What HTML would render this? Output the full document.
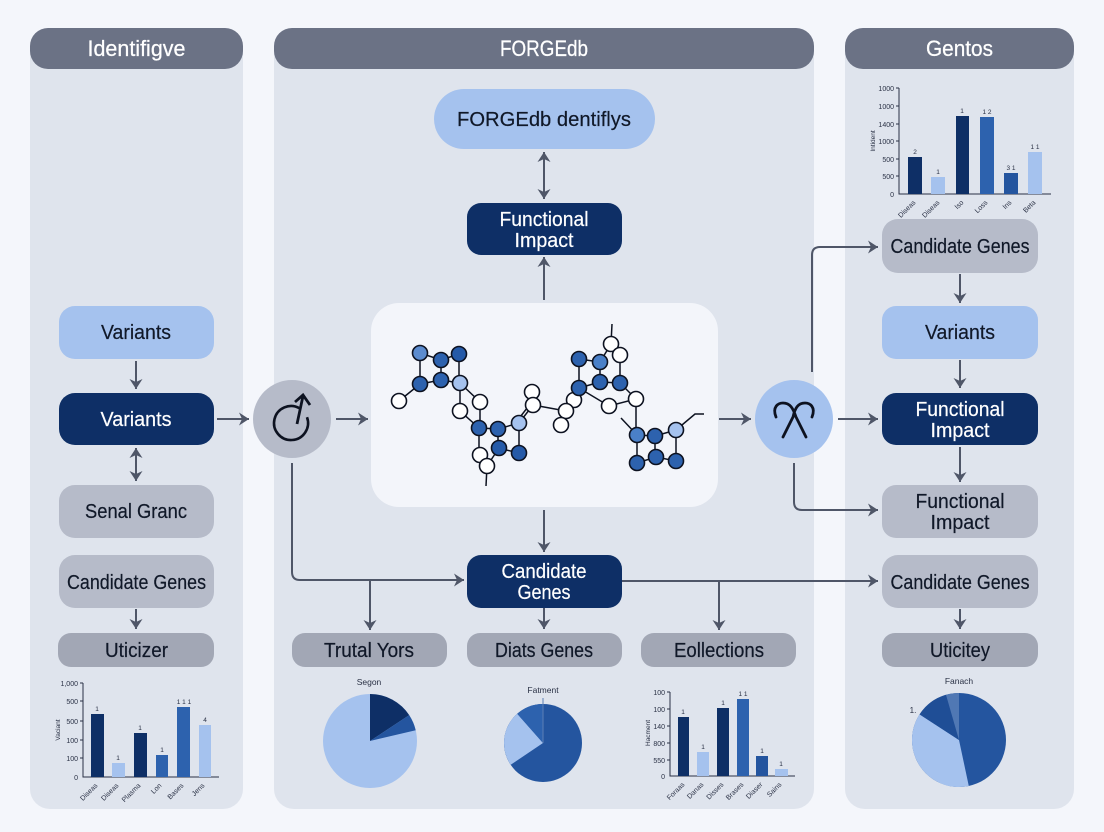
<!DOCTYPE html>
<html><head><meta charset="utf-8"><style>
html,body{margin:0;padding:0;background:#f4f6fb;width:1104px;height:832px;overflow:hidden}
svg{display:block}
text{font-family:"Liberation Sans",sans-serif;text-anchor:middle}
.l{font-size:20.5px;fill:#101828;stroke:#101828;stroke-width:.2}
.w{font-size:20.5px;fill:#fff;stroke:#fff;stroke-width:.2}
.h{font-size:22px;fill:#fff;stroke:#fff;stroke-width:.25}
.t{font-size:7px;fill:#2a3145;text-anchor:end}
.v{font-size:6.5px;fill:#2a3145}
.c{fill:none;stroke:#4f5668;stroke-width:2}
.n{stroke:#0d1220;stroke-width:1.6}
.e{stroke:#0d1220;stroke-width:1.5;fill:none}
.ax{stroke:#2a3145;stroke-width:1;fill:none}
</style></head><body>
<svg width="1104" height="832" viewBox="0 0 1104 832" xmlns="http://www.w3.org/2000/svg">
<defs>
<marker id="a" markerWidth="14" markerHeight="14" refX="11" refY="6.500" orient="auto-start-reverse" markerUnits="userSpaceOnUse"><path d="M1 0L11 6.500L1 13L4 6.500Z" fill="#4f5668"/></marker>
</defs>
<rect width="1104" height="832" fill="#f4f6fb"/>
<!-- panels -->
<rect x="30" y="28" width="213" height="781" rx="20" fill="#dfe4ed"/>
<rect x="274" y="28" width="540" height="781" rx="20" fill="#dfe4ed"/>
<rect x="845" y="28" width="229" height="781" rx="20" fill="#dfe4ed"/>
<rect x="30" y="28" width="213" height="41" rx="18" fill="#6b7285"/>
<rect x="274" y="28" width="540" height="41" rx="18" fill="#6b7285"/>
<rect x="845" y="28" width="229" height="41" rx="18" fill="#6b7285"/>
<text class="h" x="136.500" y="56" textLength="98" lengthAdjust="spacingAndGlyphs">Identifigve</text>
<text class="h" x="544" y="56" textLength="88" lengthAdjust="spacingAndGlyphs">FORGEdb</text>
<text class="h" x="959.500" y="56" textLength="67" lengthAdjust="spacingAndGlyphs">Gentos</text>

<!-- connectors -->
<g class="c">
<path d="M136 361V389" marker-end="url(#a)"/>
<path d="M136 448V481" marker-start="url(#a)" marker-end="url(#a)"/>
<path d="M136 609V629" marker-end="url(#a)"/>
<path d="M217 419H249" marker-end="url(#a)"/>
<path d="M336 419H368" marker-end="url(#a)"/>
<path d="M719 419H751" marker-end="url(#a)"/>
<path d="M838 419H878" marker-end="url(#a)"/>
<path d="M544 152V199" marker-start="url(#a)" marker-end="url(#a)"/>
<path d="M544 300V257" marker-end="url(#a)"/>
<path d="M544 510V552" marker-end="url(#a)"/>
<path d="M544 608V629" marker-end="url(#a)"/>
<path d="M292 463V572Q292 580 300 580H464" marker-end="url(#a)"/>
<path d="M370 581V630" marker-end="url(#a)"/>
<path d="M719 581V630" marker-end="url(#a)"/>
<path d="M622 581H878" marker-end="url(#a)"/>
<path d="M812 372V255Q812 247 820 247H878" marker-end="url(#a)"/>
<path d="M794 463V502Q794 510 802 510H878" marker-end="url(#a)"/>
<path d="M960 274V303" marker-end="url(#a)"/>
<path d="M960 360V388" marker-end="url(#a)"/>
<path d="M960 447V482" marker-end="url(#a)"/>
<path d="M960 609V629" marker-end="url(#a)"/>
</g>

<!-- left nodes -->
<rect x="59" y="306" width="155" height="53" rx="16" fill="#a5c2ee"/>
<text class="l" x="136" y="339" textLength="70" lengthAdjust="spacingAndGlyphs">Variants</text>
<rect x="59" y="393" width="155" height="52" rx="16" fill="#0e2f66"/>
<text class="w" x="136" y="426" textLength="71" lengthAdjust="spacingAndGlyphs">Variants</text>
<rect x="59" y="485" width="155" height="53" rx="16" fill="#b6bbc9"/>
<text class="l" x="136" y="518" textLength="102" lengthAdjust="spacingAndGlyphs">Senal Granc</text>
<rect x="59" y="555" width="155" height="53" rx="16" fill="#b6bbc9"/>
<text class="l" x="136.500" y="589" textLength="139" lengthAdjust="spacingAndGlyphs">Candidate Genes</text>
<rect x="58" y="633" width="156" height="34" rx="13" fill="#a2a7b5"/>
<text class="l" x="136.500" y="657" textLength="63" lengthAdjust="spacingAndGlyphs">Uticizer</text>

<!-- center nodes -->
<rect x="434" y="89" width="221" height="60" rx="30" fill="#a5c2ee"/>
<text class="l" x="544" y="126" textLength="174" lengthAdjust="spacingAndGlyphs">FORGEdb dentiflys</text>
<rect x="467" y="203" width="155" height="52" rx="14" fill="#0e2f66"/>
<text class="w" x="544" y="226" textLength="89" lengthAdjust="spacingAndGlyphs">Functional</text>
<text class="w" x="544" y="247" textLength="59" lengthAdjust="spacingAndGlyphs">Impact</text>
<rect x="467" y="555" width="155" height="53" rx="14" fill="#0e2f66"/>
<text class="w" x="544" y="578" textLength="85" lengthAdjust="spacingAndGlyphs">Candidate</text>
<text class="w" x="544" y="599" textLength="53" lengthAdjust="spacingAndGlyphs">Genes</text>
<rect x="292" y="633" width="155" height="34" rx="13" fill="#a2a7b5"/>
<text class="l" x="369" y="657" textLength="90" lengthAdjust="spacingAndGlyphs">Trutal Yors</text>
<rect x="467" y="633" width="155" height="34" rx="13" fill="#a2a7b5"/>
<text class="l" x="544" y="657" textLength="98" lengthAdjust="spacingAndGlyphs">Diats Genes</text>
<rect x="641" y="633" width="155" height="34" rx="13" fill="#a2a7b5"/>
<text class="l" x="719" y="657" textLength="90" lengthAdjust="spacingAndGlyphs">Eollections</text>

<!-- right nodes -->
<rect x="882" y="219" width="156" height="54" rx="16" fill="#b6bbc9"/>
<text class="l" x="960" y="253" textLength="139" lengthAdjust="spacingAndGlyphs">Candidate Genes</text>
<rect x="882" y="306" width="156" height="53" rx="14" fill="#a5c2ee"/>
<text class="l" x="960" y="339" textLength="70" lengthAdjust="spacingAndGlyphs">Variants</text>
<rect x="882" y="393" width="156" height="52" rx="14" fill="#0e2f66"/>
<text class="w" x="960" y="416" textLength="89" lengthAdjust="spacingAndGlyphs">Functional</text>
<text class="w" x="960" y="437" textLength="59" lengthAdjust="spacingAndGlyphs">Impact</text>
<rect x="882" y="485" width="156" height="53" rx="14" fill="#b6bbc9"/>
<text class="l" x="960" y="508" textLength="89" lengthAdjust="spacingAndGlyphs">Functional</text>
<text class="l" x="960" y="529" textLength="59" lengthAdjust="spacingAndGlyphs">Impact</text>
<rect x="882" y="555" width="156" height="53" rx="16" fill="#b6bbc9"/>
<text class="l" x="960" y="589" textLength="139" lengthAdjust="spacingAndGlyphs">Candidate Genes</text>
<rect x="882" y="633" width="156" height="34" rx="13" fill="#a2a7b5"/>
<text class="l" x="960" y="657" textLength="60" lengthAdjust="spacingAndGlyphs">Uticitey</text>

<!-- circles -->
<circle cx="292" cy="419" r="39" fill="#b6bbc9"/>
<path d="M299.500 408.300A17 17 0 1 0 307 417.200" fill="none" stroke="#0d1220" stroke-width="2.600"/>
<path d="M297 424L303 396M295 402L303 395L310 405" fill="none" stroke="#0d1220" stroke-width="2.800"/>
<circle cx="794" cy="419" r="39" fill="#a5c2ee"/>
<path d="M776 417C772 407 778 403 783 403C790 403 793 408 796 417L806 437M812 417C816 407 810 403 805 403C798 403 795 408 793 417L783 437" fill="none" stroke="#0d1220" stroke-width="2.800" stroke-linecap="round"/>

<!-- molecule panel -->
<rect x="371" y="303" width="347" height="204" rx="28" fill="#f3f5fa"/>
<g class="e">
<path d="M420 353V384L399 401M420 353L441 360L459 354V383M441 360V380M420 384L441 380L460 383"/>
<path d="M460 383V411L479 428M460 383L480 402V428L498 429L519 423V453M498 429V448L519 453M479 428V455L487 466L499 448M487 466L486 486"/>
<path d="M519 423L533 405M517 421L531 403M533 392V405L566 411M566 411L561 425M566 411L579 388M570 413L583 390M574 400L579 388"/>
<path d="M579 359V388L600 382V362L579 359M600 382L620 383V355M600 362L611 344L612 324M579 388L609 406L636 399L620 383M636 399V435"/>
<path d="M637 435L655 436L676 430V461L656 457L637 463V435M655 436V457M621 418L637 435M676 430L695 414H704"/>
</g>
<g class="n">
<circle cx="420" cy="353" r="7.500" fill="#5c8ccf"/><circle cx="441" cy="360" r="7.500" fill="#2d62ae"/><circle cx="459" cy="354" r="7.500" fill="#255aa8"/>
<circle cx="420" cy="384" r="7.500" fill="#2d62ae"/><circle cx="441" cy="380" r="7.500" fill="#2d62ae"/><circle cx="460" cy="383" r="7.500" fill="#a5c2ee"/>
<circle cx="399" cy="401" r="7.500" fill="#fff"/><circle cx="480" cy="402" r="7.500" fill="#fff"/><circle cx="460" cy="411" r="7.500" fill="#fff"/>
<circle cx="479" cy="428" r="7.500" fill="#2d62ae"/><circle cx="498" cy="429" r="7.500" fill="#2d62ae"/><circle cx="519" cy="423" r="7.500" fill="#a5c2ee"/>
<circle cx="499" cy="448" r="7.500" fill="#255aa8"/><circle cx="519" cy="453" r="7.500" fill="#255aa8"/><circle cx="480" cy="455" r="7.500" fill="#fff"/><circle cx="487" cy="466" r="7.500" fill="#fff"/>
<circle cx="532" cy="392" r="7.500" fill="#fff"/><circle cx="533" cy="405" r="7.500" fill="#fff"/><circle cx="574" cy="400" r="7.500" fill="#fff"/><circle cx="566" cy="411" r="7.500" fill="#fff"/><circle cx="561" cy="425" r="7.500" fill="#fff"/>
<circle cx="579" cy="359" r="7.500" fill="#2d62ae"/><circle cx="600" cy="362" r="7.500" fill="#4a80c8"/><circle cx="600" cy="382" r="7.500" fill="#2d62ae"/><circle cx="579" cy="388" r="7.500" fill="#2d62ae"/><circle cx="620" cy="383" r="7.500" fill="#2d62ae"/>
<circle cx="611" cy="344" r="7.500" fill="#fff"/><circle cx="620" cy="355" r="7.500" fill="#fff"/><circle cx="636" cy="399" r="7.500" fill="#fff"/><circle cx="609" cy="406" r="7.500" fill="#fff"/>
<circle cx="637" cy="435" r="7.500" fill="#4a80c8"/><circle cx="655" cy="436" r="7.500" fill="#2d62ae"/><circle cx="676" cy="430" r="7.500" fill="#a5c2ee"/>
<circle cx="637" cy="463" r="7.500" fill="#2d62ae"/><circle cx="656" cy="457" r="7.500" fill="#2d62ae"/><circle cx="676" cy="461" r="7.500" fill="#2d62ae"/>
</g>

<!-- chart top right -->
<path class="ax" d="M899 88V194H1051M896 88H899M896 106H899M896 124H899M896 141H899M896 159H899M896 176H899"/>
<rect x="908" y="157" width="14" height="37" fill="#0e2f66"/><rect x="931" y="177" width="14" height="17" fill="#a5c2ee"/><rect x="956" y="116" width="13" height="78" fill="#0e2f66"/><rect x="980" y="117" width="14" height="77" fill="#2d62ae"/><rect x="1004" y="173" width="14" height="21" fill="#24559f"/><rect x="1028" y="152" width="14" height="42" fill="#a5c2ee"/>
<text class="t" x="894" y="91">1000</text><text class="t" x="894" y="109">1000</text><text class="t" x="894" y="127">1400</text><text class="t" x="894" y="144">1000</text><text class="t" x="894" y="162">500</text><text class="t" x="894" y="179">500</text><text class="t" x="894" y="197">0</text>
<text class="v" transform="translate(875 141) rotate(-90)">Intident</text>
<text class="v" x="915" y="154">2</text><text class="v" x="938" y="174">1</text><text class="v" x="962" y="113">1</text><text class="v" x="987" y="114">1 2</text><text class="v" x="1011" y="170">3 1</text><text class="v" x="1035" y="149">1 1</text>
<text class="t" transform="translate(916 203) rotate(-45)">Diseas</text><text class="t" transform="translate(940 203) rotate(-45)">Diseas</text><text class="t" transform="translate(964 203) rotate(-45)">Iso</text><text class="t" transform="translate(988 203) rotate(-45)">Loss</text><text class="t" transform="translate(1012 203) rotate(-45)">Ins</text><text class="t" transform="translate(1036 203) rotate(-45)">Beta</text>

<!-- chart left -->
<path class="ax" d="M83 683V777H219M80 683H83M80 701H83M80 721H83M80 740H83M80 758H83"/>
<rect x="91" y="714" width="13" height="63" fill="#0e2f66"/><rect x="112" y="763" width="13" height="14" fill="#a5c2ee"/><rect x="134" y="733" width="13" height="44" fill="#0e2f66"/><rect x="156" y="755" width="12" height="22" fill="#2d62ae"/><rect x="177" y="707" width="13" height="70" fill="#2d62ae"/><rect x="199" y="725" width="12" height="52" fill="#a5c2ee"/>
<text class="t" x="78" y="686">1,000</text><text class="t" x="78" y="704">500</text><text class="t" x="78" y="724">500</text><text class="t" x="78" y="743">100</text><text class="t" x="78" y="761">100</text><text class="t" x="78" y="780">0</text>
<text class="v" transform="translate(60 730) rotate(-90)">Vaciant</text>
<text class="v" x="97" y="711">1</text><text class="v" x="118" y="760">1</text><text class="v" x="140" y="730">1</text><text class="v" x="162" y="752">1</text><text class="v" x="184" y="704">1 1 1</text><text class="v" x="205" y="722">4</text>
<text class="t" transform="translate(98 786) rotate(-45)">Diseas</text><text class="t" transform="translate(119 786) rotate(-45)">Diseas</text><text class="t" transform="translate(141 786) rotate(-45)">Plasma</text><text class="t" transform="translate(162 786) rotate(-45)">Lon</text><text class="t" transform="translate(184 786) rotate(-45)">Bases</text><text class="t" transform="translate(205 786) rotate(-45)">Jens</text>

<!-- chart center -->
<path class="ax" d="M670 692V776H795M667 692H670M667 709H670M667 726H670M667 743H670M667 760H670"/>
<rect x="678" y="717" width="11" height="59" fill="#0e2f66"/><rect x="697" y="752" width="12" height="24" fill="#a5c2ee"/><rect x="717" y="708" width="12" height="68" fill="#0e2f66"/><rect x="737" y="699" width="12" height="77" fill="#2d62ae"/><rect x="756" y="756" width="12" height="20" fill="#24559f"/><rect x="775" y="769" width="13" height="7" fill="#a5c2ee"/>
<text class="t" x="665" y="695">100</text><text class="t" x="665" y="712">100</text><text class="t" x="665" y="729">140</text><text class="t" x="665" y="746">800</text><text class="t" x="665" y="763">550</text><text class="t" x="665" y="779">0</text>
<text class="v" transform="translate(650 733) rotate(-90)">Hacment</text>
<text class="v" x="683" y="714">1</text><text class="v" x="703" y="749">1</text><text class="v" x="723" y="705">1</text><text class="v" x="743" y="696">1 1</text><text class="v" x="762" y="753">1</text><text class="v" x="781" y="766">1</text>
<text class="t" transform="translate(685 785) rotate(-45)">Foraas</text><text class="t" transform="translate(704 785) rotate(-45)">Danas</text><text class="t" transform="translate(724 785) rotate(-45)">Disses</text><text class="t" transform="translate(744 785) rotate(-45)">Brases</text><text class="t" transform="translate(763 785) rotate(-45)">Diaser</text><text class="t" transform="translate(782 785) rotate(-45)">Sains</text>

<!-- pie 1 -->
<circle cx="370" cy="741" r="47" fill="#a5c2ee"/>
<path d="M370 741V694A47 47 0 0 1 409.200 715.100Z" fill="#0e2f66"/>
<path d="M370 741L409.200 715.100A47 47 0 0 1 415.700 730.200Z" fill="#24559f"/>
<text x="369" y="685" style="font-size:8.500px;fill:#2a3145">Segon</text>
<!-- pie 2 -->
<circle cx="543" cy="743" r="39" fill="#24559f"/>
<path d="M543 743L510.700 764.800A39 39 0 0 1 517.200 713.800Z" fill="#a5c2ee"/>
<path d="M543 743L517.200 713.800A39 39 0 0 1 543 704Z" fill="#2d62ae"/>
<path d="M543 698V743" stroke="#5c7fb5" stroke-width="1"/>
<text x="543" y="693" style="font-size:8.500px;fill:#2a3145">Fatment</text>
<!-- pie 3 -->
<circle cx="959" cy="740" r="47" fill="#24559f"/>
<path d="M959 740L968.800 786A47 47 0 0 1 919.600 714.400Z" fill="#a5c2ee"/>
<path d="M959 740L919.600 714.400A47 47 0 0 1 946 694.800Z" fill="#1f4e96"/>
<path d="M959 740L946 694.800A47 47 0 0 1 959 693Z" fill="#5078b4"/>
<text x="959" y="684" style="font-size:8.500px;fill:#2a3145">Fanach</text>
<text x="913" y="713" style="font-size:8px;fill:#2a3145">1.</text>
</svg>
</body></html>
